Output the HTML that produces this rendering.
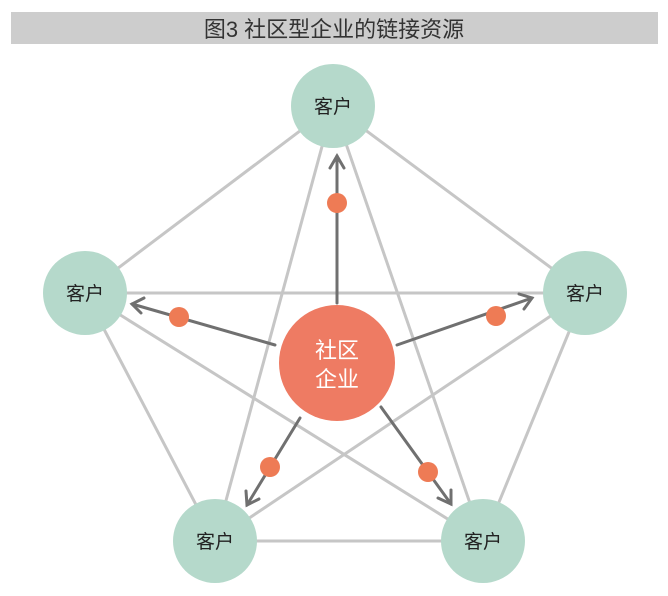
<!DOCTYPE html>
<html><head><meta charset="utf-8"><style>
html,body{margin:0;padding:0;background:#fff;width:668px;height:596px;overflow:hidden}
</style></head><body>
<svg width="668" height="596" viewBox="0 0 668 596" xmlns="http://www.w3.org/2000/svg" font-family="Liberation Sans, Noto Sans CJK SC, sans-serif">
<rect x="11" y="12" width="647" height="32" fill="#cdcdcd"/>
<text x="334" y="37" font-size="22" text-anchor="middle" fill="#333">图3  社区型企业的链接资源</text>
<g stroke="#c6c6c6" stroke-width="3" fill="none">
<line x1="333" y1="106" x2="85" y2="293"/>
<line x1="333" y1="106" x2="585" y2="293"/>
<line x1="85" y1="293" x2="215" y2="541"/>
<line x1="585" y1="293" x2="483" y2="541"/>
<line x1="215" y1="541" x2="483" y2="541"/>
<line x1="333" y1="106" x2="215" y2="541"/>
<line x1="333" y1="106" x2="483" y2="541"/>
<line x1="85" y1="293" x2="585" y2="293"/>
<line x1="85" y1="293" x2="483" y2="541"/>
<line x1="585" y1="293" x2="215" y2="541"/>
</g>
<g fill="#b5d9cb">
<circle cx="333" cy="106" r="42"/>
<circle cx="85" cy="293" r="42"/>
<circle cx="585" cy="293" r="42"/>
<circle cx="215" cy="541" r="42"/>
<circle cx="483" cy="541" r="42"/>
</g>
<g font-size="19" fill="#222" text-anchor="middle">
<text x="333" y="113">客户</text>
<text x="85" y="300">客户</text>
<text x="585" y="300">客户</text>
<text x="215" y="548">客户</text>
<text x="483" y="548">客户</text>
</g>
<g stroke="#707070" stroke-width="3" fill="none" stroke-linecap="round">
<line x1="337" y1="303" x2="337" y2="156"/>
<polyline points="330,168 337,156 344,168"/>
<line x1="275" y1="345" x2="132" y2="304"/>
<polyline points="144,298 132,304 141,313"/>
<line x1="397" y1="345" x2="532" y2="298"/>
<polyline points="519,294 532,298 524,309"/>
<line x1="300" y1="418" x2="247" y2="505"/>
<polyline points="246,491 247,505 259,499"/>
<line x1="381" y1="407" x2="451" y2="504"/>
<polyline points="438,498 451,504 451,490"/>
</g>
<circle cx="337" cy="363" r="58" fill="#ee7b63"/>
<text x="337" y="358" font-size="22" fill="#fff" text-anchor="middle">社区</text>
<text x="337" y="387" font-size="22" fill="#fff" text-anchor="middle">企业</text>
<g fill="#ee7b55">
<circle cx="337" cy="203" r="10"/>
<circle cx="179" cy="317" r="10"/>
<circle cx="496" cy="316" r="10"/>
<circle cx="270" cy="467" r="10"/>
<circle cx="428" cy="472" r="10"/>
</g>
</svg>
</body></html>
